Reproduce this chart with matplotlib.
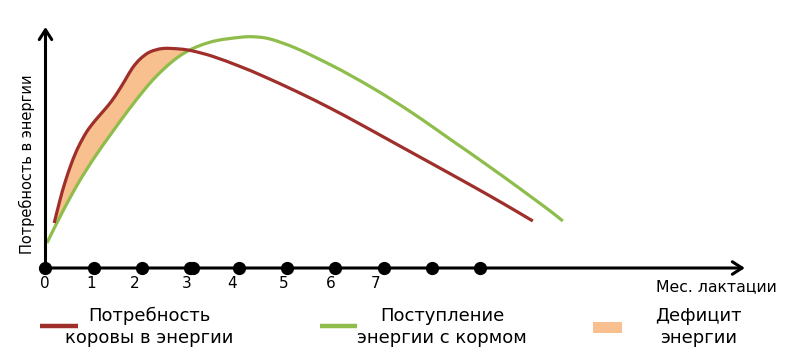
import numpy as np
import matplotlib.pyplot as plt
from matplotlib.patches import Rectangle, PathPatch
from matplotlib.path import Path

plt.rcParams['font.family'] = ['DejaVu Sans']

# months of lactation (x) and energy, arbitrary units (y)
demand_x = [0.18, 0.30, 0.40, 0.54, 0.68, 0.85, 1.02, 1.20, 1.37, 1.51, 1.65, 1.80,
            1.96, 2.16, 2.43, 2.78, 3.05, 3.47, 4.03, 4.50, 5.20, 5.89, 6.51,
            7.13, 7.75, 8.37, 8.91, 9.51, 10.09]
demand_y = [45, 68, 85, 105, 121, 136, 147, 157, 167, 177, 188, 200,
            209, 216, 219.5, 219, 217, 211.5, 201.5, 192, 176.5, 160, 144,
            127.5, 111, 94.5, 80, 63.5, 47]

intake_x = [0.03, 0.34, 0.68, 1.02, 1.37, 1.71, 2.06, 2.30, 2.60, 2.89, 3.20, 3.55,
            4.03, 4.30, 4.65, 5.20, 5.89, 6.30, 6.72, 7.13, 7.55, 7.96, 8.37,
            8.79, 9.20, 9.62, 10.03, 10.45, 10.71]
intake_y = [25, 55, 85, 111, 135, 157.5, 179, 192, 205.5, 215.5, 222.5, 227.5,
            230.7, 231.2, 229, 219.5, 203.5, 193, 181.5, 169.5, 156.5, 143, 129,
            115, 101, 86.5, 72, 57, 47]

# point where intake catches up with demand (end of the deficit zone)
cross_x, cross_y = 3.0, 217.3

dot_months = [0, 1, 2, 3, 3.06, 4, 5, 6, 7, 8, 9]
tick_labels = ['0', '1', '2', '3', '4', '5', '6', '7']
tick_label_x = [-0.01, 0.94, 1.84, 2.92, 3.87, 4.93, 5.90, 6.84]

RED = '#9e2f2b'
GREEN = '#8fbd4c'
FILL = '#f8c08f'


def smooth_path(xs, ys):
    # Catmull-Rom through the points, drawn as cubic Bezier segments
    p = np.column_stack([xs, ys]).astype(float)
    p_ext = np.vstack([p[0], p, p[-1]])
    verts = [p[0]]
    codes = [Path.MOVETO]
    for i in range(len(p) - 1):
        a, b, c, d = p_ext[i], p_ext[i + 1], p_ext[i + 2], p_ext[i + 3]
        verts += [b + (c - a) / 6, c - (d - b) / 6, c]
        codes += [Path.CURVE4] * 3
    return Path(verts, codes)


fig = plt.figure(figsize=(7.91, 3.58), dpi=100)
ax = fig.add_axes([0, 0, 1, 1])
ax.set_xlim(-0.942, 15.435)
ax.set_ylim(-90, 268)
ax.axis('off')

# deficit area: demand curve down to the crossing, back along intake
dx = [x for x in demand_x if x < cross_x] + [cross_x]
dy = [y for x, y in zip(demand_x, demand_y) if x < cross_x] + [cross_y]
ix = [x for x in intake_x if demand_x[0] < x < cross_x]
iy = [y for x, y in zip(intake_x, intake_y) if demand_x[0] < x < cross_x]
ax.fill(dx + ix[::-1], dy + iy[::-1], color=FILL, lw=0, zorder=1)

for xs, ys, col in [(intake_x, intake_y, GREEN), (demand_x, demand_y, RED)]:
    ax.add_patch(PathPatch(smooth_path(xs, ys), fill=False, edgecolor=col, lw=2.3,
                           capstyle='butt', joinstyle='round', zorder=3))

# axes with open arrowheads
ax.annotate('', xy=(14.48, 0), xytext=(-0.02, 0),
            arrowprops=dict(arrowstyle='->,head_length=0.7,head_width=0.45',
                            color='black', lw=2.2, shrinkA=0, shrinkB=0), zorder=4)
ax.annotate('', xy=(0, 241), xytext=(0, -1),
            arrowprops=dict(arrowstyle='->,head_length=0.7,head_width=0.45',
                            color='black', lw=2.2, shrinkA=0, shrinkB=0), zorder=4)
ax.plot(dot_months, [0] * len(dot_months), 'o', color='black', ms=8.5, zorder=5)

for x, lab in zip(tick_label_x, tick_labels):
    ax.text(x, -15, lab, ha='center', va='center', fontsize=11)
ax.text(13.9, -19, 'Мес. лактации', ha='center', va='center', fontsize=11.3)
ax.text(-0.38, 104, 'Потребность в энергии', rotation=90, ha='center', va='center',
        fontsize=10.5)

# legend
ax.plot([-0.12, 0.67], [-58, -58], color=RED, lw=3.2, solid_capstyle='butt')
ax.text(2.15, -59, 'Потребность\nкоровы в энергии', ha='center', va='center',
        fontsize=13, linespacing=1.25)
ax.plot([5.68, 6.45], [-58, -58], color=GREEN, lw=3.2, solid_capstyle='butt')
ax.text(8.21, -59, 'Поступление\nэнергии с кормом', ha='center', va='center',
        fontsize=13, linespacing=1.25)
ax.add_patch(Rectangle((11.34, -65), 0.6, 11, color=FILL, lw=0))
ax.text(13.52, -59, 'Дефицит\nэнергии', ha='center', va='center',
        fontsize=13, linespacing=1.25)

fig.savefig('out.png', dpi=100)
